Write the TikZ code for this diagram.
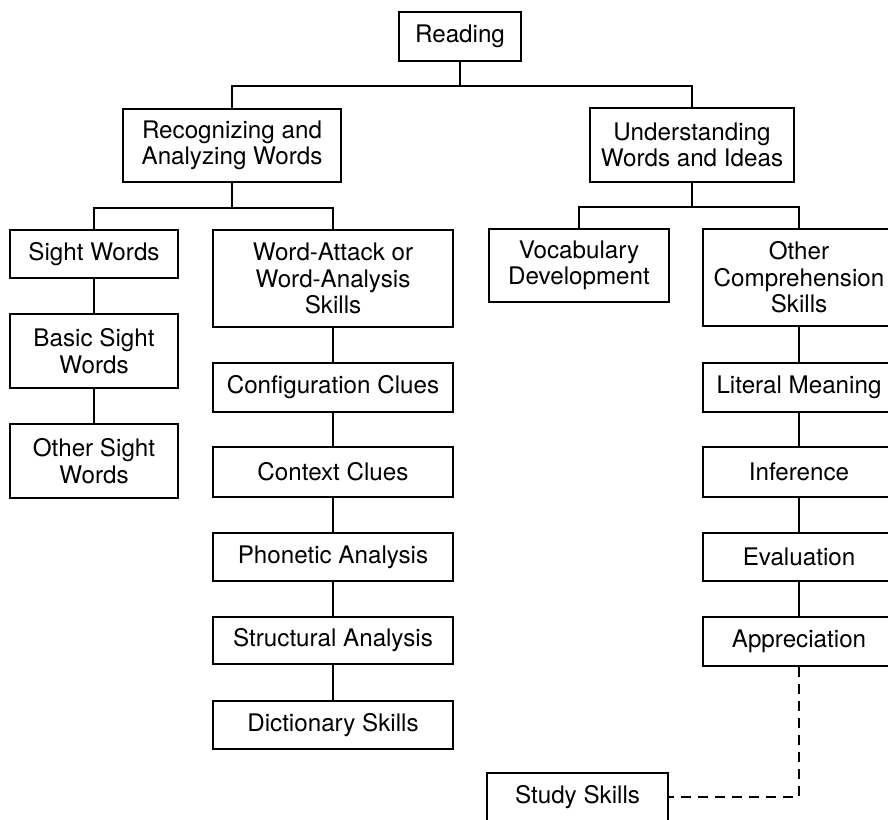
\documentclass[tikz,border=0pt]{standalone}
\usepackage{fontspec}
\setmainfont{TeX Gyre Heros}
\begin{document}
\begin{tikzpicture}
      [x=1pt, y=-1pt,
      box/.style={draw, line width=1.8pt, align=center, inner sep=0pt,
        font=\fontsize{24.2}{26.5}\selectfont},
      link/.style={line width=1.8pt},
      dashlink/.style={line width=1.6pt, dash pattern=on 10pt off 7pt}]
      \useasboundingbox (0,0) rectangle (888,819);
      \node[box, minimum width=122, minimum height=49] (read) at (460,36.5) {Reading};
      \node[box, minimum width=218, minimum height=73] (recog) at (232,145.5) {Recognizing and\\Analyzing Words};
      \node[box, minimum width=204, minimum height=74] (under) at (692,145) {Understanding\\Words and Ideas};
      % left branch
      \node[box, minimum width=168, minimum height=48] (sight) at (94,254) {Sight Words};
      \node[box, minimum width=168, minimum height=74] (basic) at (94,351) {Basic Sight\\Words};
      \node[box, minimum width=168, minimum height=74] (othersight) at (94,461) {Other Sight\\Words};
      \node[box, minimum width=240, minimum height=97] (attack) at (333,278.5) {Word-Attack or\\Word-Analysis\\Skills};
      \node[box, minimum width=240, minimum height=49] (config) at (333,387.5) {Configuration Clues};
      \node[box, minimum width=240, minimum height=50] (context) at (333,472) {Context Clues};
      \node[box, minimum width=240, minimum height=48] (phon) at (333,557) {Phonetic Analysis};
      \node[box, minimum width=240, minimum height=47] (struct) at (333,640.5) {Structural Analysis};
      \node[box, minimum width=240, minimum height=48] (dict) at (333,725) {Dictionary Skills};
      % right branch
      \node[box, minimum width=180, minimum height=73] (vocab) at (579,265.5) {Vocabulary\\Development};
      \node[box, minimum width=192, minimum height=97] (othercomp) at (799,277.5) {Other\\Comprehension\\Skills};
      \node[box, minimum width=192, minimum height=49] (literal) at (799,387.5) {Literal Meaning};
      \node[box, minimum width=192, minimum height=50] (infer) at (799,472) {Inference};
      \node[box, minimum width=192, minimum height=48] (eval) at (799,557) {Evaluation};
      \node[box, minimum width=192, minimum height=49] (appr) at (799,641.5) {Appreciation};
      \node[box, minimum width=181, minimum height=48] (study) at (577.5,797) {Study Skills};
      % connectors
      \draw[link] (read.south) -- ++(0,24) -| (recog);
      \draw[link] (read.south) -- ++(0,24) -| (under);
      \draw[link] (recog.south) -- ++(0,25) -| (sight);
      \draw[link] (recog.south) -- ++(0,25) -| (attack);
      \draw[link] (under.south) -- ++(0,24) -| (vocab);
      \draw[link] (under.south) -- ++(0,24) -| (othercomp);
      \draw[link] (sight) -- (basic) -- (othersight);
      \draw[link] (attack) -- (config) -- (context) -- (phon) -- (struct) -- (dict);
      \draw[link] (othercomp) -- (literal) -- (infer) -- (eval) -- (appr);
      \draw[dashlink] (appr.south) |- (study.east);
\end{tikzpicture}
\end{document}
